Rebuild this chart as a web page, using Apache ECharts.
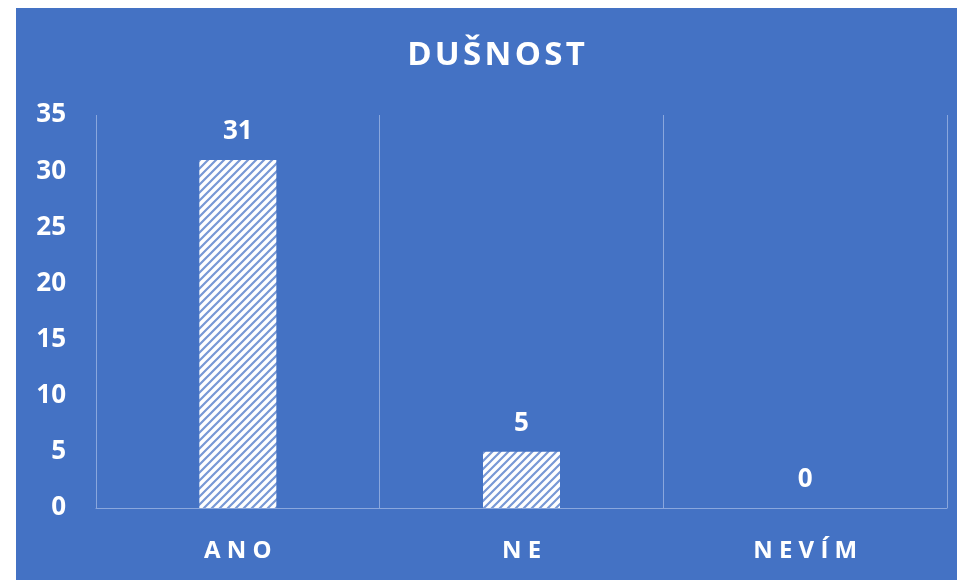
<!DOCTYPE html>
<html lang="cs">
<head>
<meta charset="UTF-8">
<title>DUŠNOST</title>
<script src="https://cdn.jsdelivr.net/npm/echarts@6/dist/echarts.min.js"></script>
<style>
  html, body { margin: 0; padding: 0; background: #fff; }
  #main { position: absolute; left: 16px; top: 8px; width: 941px; height: 572px; }
</style>
</head>
<body>
<div id="main"></div>
<script>
// data
var categories = ['ANO', 'NE', 'NEVÍM'];
var values = [31, 5, 0];
var yTicks = [0, 5, 10, 15, 20, 25, 30, 35];

var blue = '#4472C4';
var gridLine = '#8aa7dd';

// wide upward diagonal hatch
function hatch() {
    var c = document.createElement('canvas');
    c.width = 8; c.height = 8;
    var ctx = c.getContext('2d');
    ctx.fillStyle = '#ffffff';
    ctx.fillRect(0, 0, 8, 8);
    ctx.strokeStyle = '#7898d5';
    ctx.lineWidth = 2.2;
    ctx.beginPath();
    ctx.moveTo(-2, 10); ctx.lineTo(10, -2);
    ctx.moveTo(-6, 6); ctx.lineTo(6, -6);
    ctx.moveTo(2, 14); ctx.lineTo(14, 2);
    ctx.stroke();
    return c;
}

var spaced = function (s) { return s.split('').join(' '); };
var tight = function (s) { return s.split('').join('\u200A'); };

var myChart = echarts.init(document.getElementById('main'));
var option = {
    backgroundColor: blue,
    textStyle: { fontFamily: 'Open Sans', color: '#fff' },
    title: {
        text: tight('DUŠNOST'),
        left: 480,
        top: 31,
        padding: 0,
        textAlign: 'center',
        textStyle: { color: '#fff', fontSize: 33, fontWeight: 'bold', fontFamily: 'Open Sans' }
    },
    grid: { left: 80, right: 10, top: 107, bottom: 72 },
    xAxis: {
        type: 'category',
        data: categories,
        axisLine: { lineStyle: { color: gridLine, width: 1 } },
        axisTick: { show: false },
        splitLine: { show: true, lineStyle: { color: gridLine, width: 1 } },
        axisLabel: {
            color: '#fff', fontSize: 24, fontWeight: 'bold', margin: 31,
            formatter: spaced
        }
    },
    yAxis: {
        type: 'value',
        min: yTicks[0],
        max: yTicks[yTicks.length - 1],
        interval: 5,
        axisLine: { show: false },
        axisTick: { show: false },
        splitLine: { show: false },
        axisLabel: { color: '#fff', fontSize: 26, fontWeight: 'bold', margin: 30 }
    },
    series: [{
        type: 'bar',
        data: values,
        barWidth: 77,
        itemStyle: { color: { image: hatch(), repeat: 'repeat' } },
        label: {
            show: true, position: 'top', distance: 15,
            color: '#fff', fontSize: 26, fontWeight: 'bold'
        }
    }]
};
myChart.setOption(option);
</script>
</body>
</html>
